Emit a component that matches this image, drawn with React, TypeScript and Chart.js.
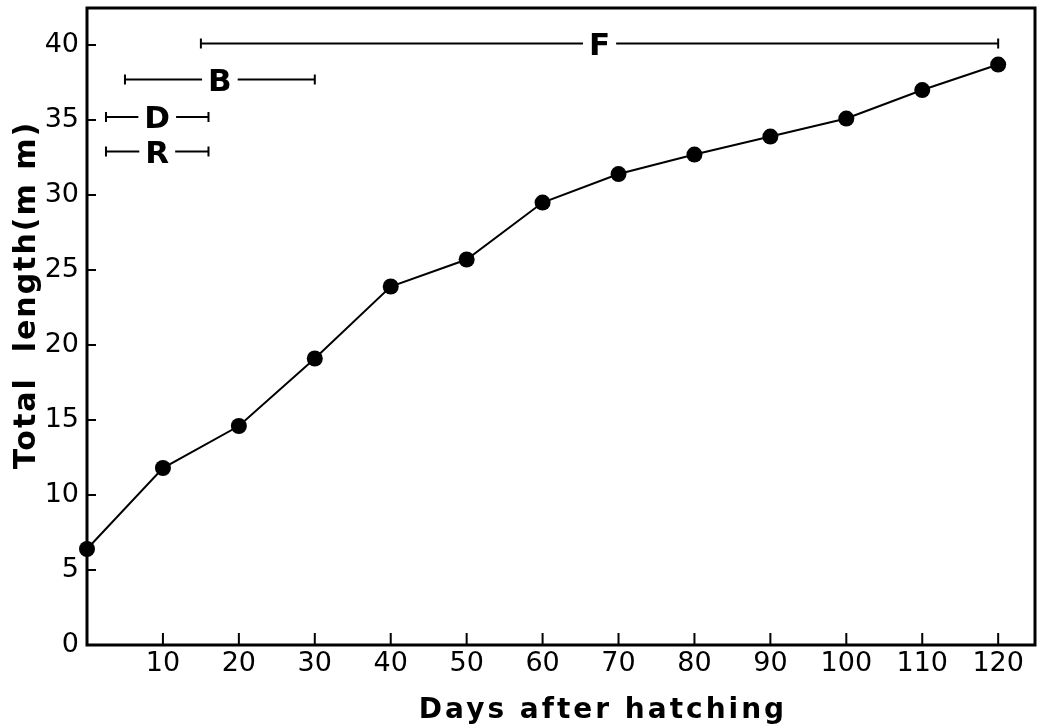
import React, { useEffect, useRef } from 'react';
import { Chart, registerables } from 'chart.js';

Chart.register(...registerables);

// Growth data
const days = [0, 10, 20, 30, 40, 50, 60, 70, 80, 90, 100, 110, 120];
const totalLength = [6.4, 11.8, 14.6, 19.1, 23.9, 25.7, 29.5, 31.4, 32.7, 33.9, 35.1, 37.0, 38.7];

// Range bars (days) drawn at a given length level
const rangeLabels = ['F', 'B', 'D', 'R'];
const rangeStart = [15, 5, 2.5, 2.5];
const rangeEnd = [120, 30, 16, 16];
const rangeLevel = [40.1, 37.7, 35.2, 32.9];

// Tick values
const xTickValues = [10, 20, 30, 40, 50, 60, 70, 80, 90, 100, 110, 120];
const yTickValues = [0, 5, 10, 15, 20, 25, 30, 35, 40];

const xTitle = 'Days after hatching';
const yTitle = 'Total  length(m m)';

const TICK_FONT = '"DejaVu Sans", sans-serif';
const BOLD_FONT = '"DejaVu Sans", sans-serif';

const framePlugin = {
  id: 'frameAndRanges',
  beforeDatasetsDraw(chart: any) {
    const { ctx, chartArea, scales } = chart;
    const xs = scales.x;
    const ys = scales.y;
    ctx.save();
    ctx.strokeStyle = '#000';
    ctx.fillStyle = '#000';
    ctx.lineCap = 'butt';

    // frame
    ctx.lineWidth = 3;
    ctx.beginPath();
    ctx.moveTo(chartArea.left, chartArea.top);
    ctx.lineTo(chartArea.right, chartArea.top);
    ctx.lineTo(chartArea.right, chartArea.bottom);
    ctx.lineTo(chartArea.left, chartArea.bottom);
    ctx.closePath();
    ctx.stroke();

    // inward ticks
    ctx.lineWidth = 2;
    ctx.beginPath();
    xTickValues.forEach((v) => {
      const px = xs.getPixelForValue(v);
      ctx.moveTo(px, chartArea.bottom);
      ctx.lineTo(px, chartArea.bottom - 12);
    });
    yTickValues.forEach((v) => {
      if (v === 0) return;
      const py = ys.getPixelForValue(v);
      ctx.moveTo(chartArea.left, py);
      ctx.lineTo(chartArea.left + 9, py);
    });
    ctx.stroke();

    // range bars
    ctx.font = `bold 31px ${BOLD_FONT}`;
    ctx.textAlign = 'center';
    ctx.textBaseline = 'alphabetic';
    rangeLabels.forEach((lab, i) => {
      const x0 = xs.getPixelForValue(rangeStart[i]);
      const x1 = xs.getPixelForValue(rangeEnd[i]);
      const y = ys.getPixelForValue(rangeLevel[i]);
      const xm = (x0 + x1) / 2;
      const w = ctx.measureText(lab).width;
      const gap = 6;
      ctx.lineWidth = 2;
      ctx.beginPath();
      ctx.moveTo(x0, y);
      ctx.lineTo(xm - w / 2 - gap, y);
      ctx.moveTo(xm + w / 2 + gap, y);
      ctx.lineTo(x1, y);
      ctx.moveTo(x0, y - 5);
      ctx.lineTo(x0, y + 5);
      ctx.moveTo(x1, y - 5);
      ctx.lineTo(x1, y + 5);
      ctx.stroke();
      ctx.fillText(lab, xm, y + 11);
    });
    ctx.restore();
  },
  afterDraw(chart: any) {
    const { ctx } = chart;
    ctx.save();
    ctx.fillStyle = '#000';
    // x title
    ctx.font = `bold 28px ${BOLD_FONT}`;
    (ctx as any).letterSpacing = '3px';
    ctx.textAlign = 'center';
    ctx.textBaseline = 'alphabetic';
    ctx.fillText(xTitle, 603, 718);
    // y title
    ctx.font = `bold 30px ${BOLD_FONT}`;
    (ctx as any).letterSpacing = '2px';
    ctx.translate(35, 295);
    ctx.rotate(-Math.PI / 2);
    ctx.fillText(yTitle, 0, 0);
    ctx.restore();
  },
};

export default function App() {
  const canvasRef = useRef<HTMLCanvasElement | null>(null);

  useEffect(() => {
    if (!canvasRef.current) return;
    const chart = new Chart(canvasRef.current, {
      type: 'line',
      data: {
        datasets: [
          {
            label: 'Total length',
            data: days.map((d, i) => ({ x: d, y: totalLength[i] })),
            borderColor: '#000',
            backgroundColor: '#000',
            borderWidth: 2,
            pointRadius: 8,
            pointBackgroundColor: '#000',
            pointBorderColor: '#000',
            pointBorderWidth: 0,
            tension: 0,
            clip: false as any,
          },
        ],
      },
      options: {
        animation: false,
        responsive: true,
        maintainAspectRatio: false,
        layout: { padding: { top: 8, right: 3, left: 0, bottom: 0 } },
        plugins: {
          legend: { display: false },
          tooltip: { enabled: false },
        },
        scales: {
          x: {
            type: 'linear',
            min: 0,
            max: 124.85,
            grid: { display: false, drawTicks: false },
            border: { display: false },
            afterBuildTicks: (scale: any) => {
              scale.ticks = xTickValues.map((v) => ({ value: v }));
            },
            ticks: {
              autoSkip: false,
              maxRotation: 0,
              padding: 3,
              color: '#000',
              font: { family: TICK_FONT, size: 27 },
              callback: (v: any) => String(v),
            },
            afterFit: (scale: any) => {
              scale.height = 82;
              scale.paddingLeft = 0;
              scale.paddingRight = 0;
            },
          },
          y: {
            type: 'linear',
            min: 0,
            max: 42.47,
            grid: { display: false, drawTicks: false },
            border: { display: false },
            afterBuildTicks: (scale: any) => {
              scale.ticks = yTickValues.map((v) => ({ value: v }));
            },
            ticks: {
              autoSkip: false,
              padding: 8,
              color: '#000',
              font: { family: TICK_FONT, size: 27 },
              callback: (v: any) => String(v),
            },
            afterFit: (scale: any) => {
              scale.width = 87;
              scale.paddingTop = 0;
              scale.paddingBottom = 0;
            },
          },
        },
      },
      plugins: [framePlugin],
    });
    return () => chart.destroy();
  }, []);

  return (
    <div style={{ position: 'absolute', left: 0, top: 0, width: 1043, height: 727, background: '#fff' }}>
      <canvas ref={canvasRef} />
    </div>
  );
}
